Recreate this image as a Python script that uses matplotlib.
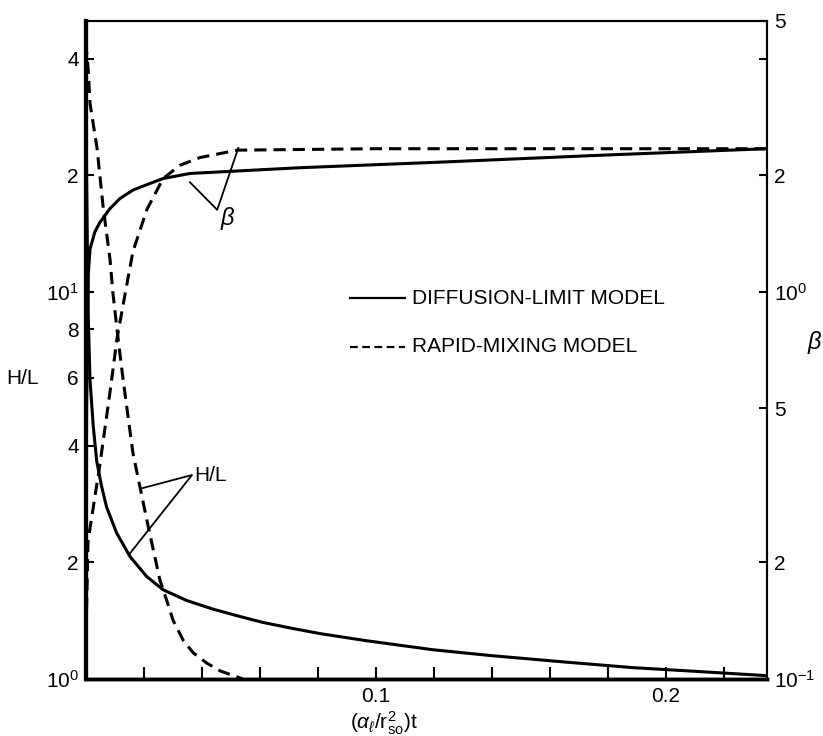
import matplotlib
matplotlib.use("Agg")
import matplotlib.pyplot as plt
from matplotlib.ticker import FixedLocator, FixedFormatter, NullLocator

plt.rcParams['font.family'] = ['Liberation Sans', 'DejaVu Sans']
plt.rcParams['mathtext.fontset'] = 'custom'
plt.rcParams['mathtext.rm'] = 'Liberation Sans'
plt.rcParams['mathtext.it'] = 'Liberation Sans:italic'

# ---- data ----
t_hl_diff = [0, 0.0003, 0.0008, 0.0015, 0.0026, 0.0038, 0.0055, 0.0072, 0.0107, 0.0153,
             0.021, 0.0267, 0.0348, 0.0439, 0.0532, 0.0611, 0.0715, 0.0808, 0.0970,
             0.1198, 0.1394, 0.166, 0.1887, 0.2118, 0.235]
hl_diff = [45, 20, 9, 5.9, 4.5, 3.65, 3.14, 2.78, 2.38, 2.07,
           1.84, 1.70, 1.595, 1.515, 1.45, 1.40, 1.35, 1.31, 1.255,
           1.19, 1.15, 1.105, 1.07, 1.045, 1.02]

t_hl_rapid = [0, 0.0008, 0.0015, 0.0039, 0.006, 0.0084, 0.0094, 0.0111, 0.0129, 0.0163,
              0.0211, 0.0256, 0.0279, 0.0301, 0.0336, 0.037, 0.0417, 0.0463, 0.0542]
hl_rapid = [44, 38, 30.6, 23.5, 16.6, 12.1, 9.9, 7.64, 5.93, 3.83,
            2.57, 1.80, 1.60, 1.42, 1.26, 1.17, 1.10, 1.05, 1.0]

t_beta_diff = [0, 0.0003, 0.0009, 0.0015, 0.0032, 0.0049, 0.0084, 0.0118, 0.0163,
               0.0211, 0.0267, 0.036, 0.0739, 0.122, 0.177, 0.235]
beta_diff = [0.1, 0.5, 1.11, 1.29, 1.43, 1.51, 1.64, 1.74, 1.83,
             1.89, 1.96, 2.02, 2.09, 2.16, 2.25, 2.34]

t_beta_rapid = [0, 0.0008, 0.0049, 0.0084, 0.0108, 0.0136, 0.0163, 0.0211, 0.0267,
                0.0325, 0.0394, 0.0522, 0.1, 0.235]
beta_rapid = [0.12, 0.227, 0.358, 0.552, 0.757, 0.988, 1.27, 1.63, 1.96,
              2.12, 2.22, 2.32, 2.34, 2.34]

x_major = [0.1, 0.2]
x_major_labels = ['0.1', '0.2']
x_minor = [0.02, 0.04, 0.06, 0.08, 0.12, 0.14, 0.16, 0.18, 0.22]

hl_ticks = [1, 2, 4, 6, 8, 10, 20, 40]
hl_labels = [r'$10^0$', '2', '4', '6', '8', r'$10^1$', '2', '4']

beta_ticks = [0.1, 0.2, 0.5, 1, 2, 4, 5]
beta_labels = [r'$10^{-1}$', '2', '5', r'$10^0$', '2', '', '5']

# ---- figure ----
fig = plt.figure(figsize=(8.23, 7.36), dpi=100)
ax = fig.add_axes([85.7 / 823, 57 / 736, 681.3 / 823, 658 / 736])
ax2 = ax.twinx()

lw = 2.2
dash = (4, 2.3)
ax.plot(t_hl_diff, hl_diff, color='black', lw=lw, solid_joinstyle='round')
ax.plot(t_hl_rapid, hl_rapid, color='black', lw=lw, dashes=dash)
ax2.plot(t_beta_diff, beta_diff, color='black', lw=lw, solid_joinstyle='round')
ax2.plot(t_beta_rapid, beta_rapid, color='black', lw=lw, dashes=dash)

ax.set_xlim(0, 0.235)
ax.set_yscale('log')
ax.set_ylim(1, 50)
ax2.set_yscale('log')
ax2.set_ylim(0.1, 5.0)

ax.xaxis.set_major_locator(FixedLocator(x_major))
ax.xaxis.set_major_formatter(FixedFormatter(x_major_labels))
ax.xaxis.set_minor_locator(FixedLocator(x_minor))

ax.yaxis.set_major_locator(FixedLocator(hl_ticks))
ax.yaxis.set_major_formatter(FixedFormatter(hl_labels))
ax.yaxis.set_minor_locator(NullLocator())
ax2.yaxis.set_major_locator(FixedLocator(beta_ticks))
ax2.yaxis.set_major_formatter(FixedFormatter(beta_labels))
ax2.yaxis.set_minor_locator(NullLocator())

ax.tick_params(axis='x', which='both', direction='in', length=8.5, width=1.5,
               labelsize=15, pad=6, top=False)
ax.tick_params(axis='y', which='both', direction='in', length=6, width=1.5,
               labelsize=15, pad=5)
ax2.tick_params(axis='y', which='both', direction='in', length=6, width=1.5,
                labelsize=15, pad=5)

for a in (ax, ax2):
    a.spines['left'].set_linewidth(3.0)
    a.spines['bottom'].set_linewidth(2.5)
    a.spines['top'].set_linewidth(1.5)
    a.spines['right'].set_linewidth(1.5)

ax.set_xlabel(r'$(\alpha_{\ell}/\mathrm{r}^{2}_{\mathrm{so}})\mathrm{t}$', fontsize=15)
ax.xaxis.set_label_coords(0.437, -0.046)
ax.xaxis.label.set_va('top')

fig.text(22 / 823, 1 - 378 / 736, 'H/L', fontsize=15, ha='center', va='center')
fig.text(815 / 823, 1 - 342 / 736, r'$\beta$', fontsize=17, ha='center', va='center')

# legend (hand-drawn style)
ax.plot([0.388, 0.469], [0.579, 0.579], transform=ax.transAxes, color='black', lw=1.6)
ax.plot([0.388, 0.469], [0.505, 0.505], transform=ax.transAxes, color='black', lw=1.6,
        dashes=(3.5, 2))
ax.text(0.479, 0.579, 'DIFFUSION-LIMIT MODEL', transform=ax.transAxes, fontsize=15,
        va='center', ha='left')
ax.text(0.479, 0.505, 'RAPID-MIXING MODEL', transform=ax.transAxes, fontsize=15,
        va='center', ha='left')

# annotation leaders
ax.plot([0.153, 0.193, 0.224], [0.755, 0.713, 0.807], transform=ax.transAxes,
        color='black', lw=1.3)
ax.text(0.197, 0.700, r'$\beta$', transform=ax.transAxes, fontsize=17, ha='left',
        va='center')
ax.plot([0.083, 0.156, 0.065], [0.290, 0.310, 0.191], transform=ax.transAxes,
        color='black', lw=1.3)
ax.text(0.160, 0.310, 'H/L', transform=ax.transAxes, fontsize=15, ha='left',
        va='center')

fig.savefig('out.png', dpi=100)
